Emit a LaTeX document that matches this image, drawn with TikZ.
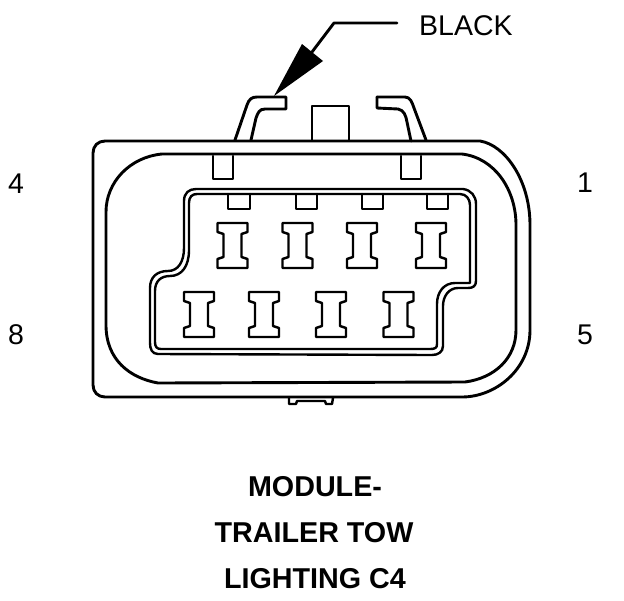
\documentclass[tikz,border=0pt]{standalone}
\usepackage{fontspec}
\setmainfont{Liberation Sans}
\tikzset{
 ln/.style={line width=2.9pt,line join=round,line cap=round,black},
 thin ln/.style={line width=2.4pt,line join=round,line cap=round,black},
 lbl/.style={font=\fontsize{28.5}{30}\selectfont,inner sep=0pt,text=black},
 ttl/.style={font=\bfseries\fontsize{28.7}{30}\selectfont,inner sep=0pt,text=black},
 pics/pin/.style={code={
  \draw[thin ln] (0,0)--(30,0)--(30,9)--(24,11)--(24,34)--(30,36)--(30,45)--(0,45)--(0,36)--(6,34)--(6,11)--(0,9)--cycle;
 }}
}
\begin{document}
\begin{tikzpicture}[x=1pt,y=-1pt]
\useasboundingbox (0,0) rectangle (624,600);
\fill[white] (0,0) rectangle (624,600);
% top features
\draw[ln] (235,140)--(247,105) .. controls (249,99) and (252,97) .. (257,97)--(286,97)--(286,109)--(265,109) .. controls (259,109) and (258,113) .. (256,118)--(251,140);
\draw[ln] (312,140)--(312,106)--(349,106)--(349,140);
\draw[ln] (377,97)--(405,97) .. controls (410,97) and (412,102) .. (414,108)--(426,140);
\draw[ln] (377,97)--(377,108)--(398,109) .. controls (404,110) and (406,116) .. (407,122)--(411,141);
% arrow
\draw[ln] (397,23)--(334,23)--(312,52);
\fill[black] (274,96)--(302,44)--(323,61)--cycle;
% housing
\draw[ln] (105,141)--(480,141) .. controls (505,145) and (530,180) .. (530,225)--(530,330) .. controls (530,370) and (495,397) .. (462,397)--(105,397) .. controls (98,397) and (93,392) .. (93,385)--(93,153) .. controls (93,146) and (98,141) .. (105,141)--cycle;
\draw[ln] (162,154)--(462,154) .. controls (495,158) and (516,190) .. (516,225)--(516,330) .. controls (516,358) and (495,378) .. (465,382)--(158,383) .. controls (130,378) and (106,360) .. (106,325)--(106,212) .. controls (106,182) and (130,157) .. (162,154)--cycle;
% cavity
\draw[thin ln] (196,189)--(463,189) .. controls (471,190) and (476,196) .. (476,204)--(476,281) .. controls (476,286) and (473,288) .. (468,288)--(458,288) .. controls (449,288) and (443,296) .. (443,306)--(443,346) .. controls (443,352) and (438,355) .. (432,355)--(158,354) .. controls (152,354) and (150,349) .. (150,343)--(150,288) .. controls (150,277) and (157,271) .. (168,271) .. controls (178,271) and (184,262) .. (184,248)--(184,201) .. controls (184,193) and (189,189) .. (196,189)--cycle;
\draw[thin ln] (197,194)--(460,194) .. controls (466,194) and (470,199) .. (470,205)--(470,283)--(455,283) .. controls (444,283) and (437,292) .. (437,304)--(437,344) .. controls (437,348) and (435,349) .. (430,349)--(161,349) .. controls (157,349) and (155,347) .. (155,342)--(155,291) .. controls (155,281) and (161,276) .. (170,276) .. controls (182,276) and (189,266) .. (189,250)--(189,203) .. controls (189,197) and (192,194) .. (197,194)--cycle;
% tabs
\foreach \a/\b in {213/233,401/421}{\draw[thin ln] (\a,156)--(\a,179)--(\b,179)--(\b,156);}
\foreach \a/\b in {228/250,296/317,362/383,427/448}{\draw[thin ln] (\a,194)--(\a,209)--(\b,209)--(\b,194);}
% pins
\foreach \p in {217.5,282.5,347,416}{\pic at (\p,223) {pin};}
\foreach \p in {184,249,316,383.5}{\pic at (\p,292) {pin};}
% bottom clip
\draw[thin ln] (289,398)--(289,404)--(296,404)--(297,401)--(325,401)--(326,404)--(332,404)--(333,398);
% text
\node[lbl,anchor=west] (black) at (419,26) {BLACK};
\node[lbl] (n4) at (16,184) {4};
\node[lbl] (n1) at (585,183) {1};
\node[lbl] (n8) at (16,335) {8};
\node[lbl] (n5) at (585,335) {5};
\node[ttl] (t1) at (315,487) {MODULE-};
\node[ttl] (t2) at (314,533) {TRAILER TOW};
\node[ttl] (t3) at (315,579) {LIGHTING C4};
\end{tikzpicture}
\end{document}
